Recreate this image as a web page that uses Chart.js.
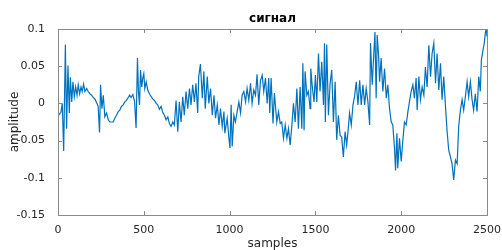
<!DOCTYPE html>
<html>
<head>
<meta charset="utf-8">
<script src="https://cdn.jsdelivr.net/npm/chart.js@4/dist/chart.umd.min.js"></script>
<style>
    body { margin: 0; background: #fff; }
    #wrap { width: 502px; height: 250px; }
</style>
</head>
<body>
<div id="wrap"><canvas id="signalChart"></canvas></div>
<script>
// values (sample index / amplitude)
const samples = [
    1, 6, 17, 25, 33, 43, 50, 58, 66, 72, 80, 87, 95, 103, 111, 118, 126, 134, 141, 149,
    157, 167, 176, 186, 196, 205, 215, 225, 234, 242, 248, 256, 264, 273, 283, 293, 302, 312, 322, 331,
    341, 351, 360, 370, 380, 389, 399, 409,
    417, 426, 436, 446, 455, 463, 469, 475, 481, 488, 494, 500, 506, 514, 523, 533, 543, 552, 562, 572,
    581, 591, 601, 610, 620, 630, 640, 649, 659, 669, 678, 688, 698, 707, 717, 727, 736, 746, 756, 766,
    775, 785, 795, 804, 814, 820, 830,
    841, 850, 858, 870, 879, 889, 899, 909, 918, 928, 938, 947, 957, 967, 972, 986, 996, 1002, 1009, 1015,
    1025, 1034, 1044, 1054, 1064, 1073, 1083, 1093, 1102, 1112, 1122, 1131, 1141, 1151, 1160, 1170, 1180, 1190, 1199, 1209,
    1219, 1228, 1234, 1242, 1253, 1261,
    1266, 1275, 1285, 1295, 1304, 1314, 1324, 1334, 1343, 1353, 1363, 1372, 1382, 1392, 1401, 1411, 1421, 1427, 1434, 1440,
    1450, 1459, 1469, 1473, 1483, 1492, 1500, 1508, 1518, 1527, 1537, 1547, 1553, 1558, 1566, 1576, 1585, 1595, 1605, 1615,
    1624, 1634, 1644, 1653, 1663, 1673, 1682,
    1690, 1699, 1709, 1719, 1728, 1738, 1748, 1758, 1767, 1777, 1787, 1796, 1806, 1816, 1821, 1831, 1839, 1847, 1854, 1860,
    1868, 1874, 1883, 1893, 1903, 1913, 1922, 1932, 1942, 1951, 1961, 1967, 1975, 1980, 1990, 2000, 2009, 2019, 2029, 2039,
    2048, 2058, 2068, 2077, 2087, 2093,
    2103, 2112, 2122, 2132, 2141, 2151, 2161, 2171, 2180, 2190, 2200, 2209, 2219, 2229, 2238, 2248, 2258, 2267, 2277, 2287,
    2296, 2306, 2316, 2326, 2335, 2345, 2355, 2364, 2374, 2384, 2393, 2403, 2413, 2422, 2432, 2442, 2452, 2461, 2467, 2477,
    2484, 2490, 2496, 2500
];

const amplitude = [
    -0.014, -0.015, -0.012, 0.000, -0.064, 0.079, -0.034, 0.051, -0.013, 0.035, 0.002, 0.029, 0.009, 0.022, 0.011, 0.025, 0.013, 0.022, 0.016, 0.026,
    0.016, 0.020, 0.016, 0.013, 0.011, 0.008, 0.006, 0.001, -0.004, -0.039, 0.025, -0.007, 0.011, -0.018, -0.013, -0.022, -0.025, -0.025, -0.025, -0.020,
    -0.016, -0.011, -0.009, -0.004, -0.002, 0.002, 0.004, 0.008,
    0.011, 0.008, 0.012, 0.003, -0.033, 0.061, 0.016, -0.002, 0.045, 0.022, 0.034, 0.040, 0.020, 0.029, 0.018, 0.013, 0.009, 0.006, 0.004, 0.000,
    -0.002, -0.008, -0.004, -0.012, -0.016, -0.022, -0.018, -0.027, -0.031, -0.025, -0.029, 0.004, -0.038, 0.002, -0.025, 0.009, -0.016, 0.016, -0.007, 0.020,
    -0.002, 0.025, 0.002, 0.027, -0.013, 0.036, 0.053,
    0.007, 0.043, -0.007, 0.036, 0.000, 0.020, -0.016, 0.011, -0.020, -0.002, -0.029, -0.007, -0.031, -0.011, -0.040, -0.020, -0.047, -0.060, -0.002, -0.058,
    -0.016, -0.025, -0.011, 0.002, -0.013, 0.011, 0.016, 0.002, 0.020, 0.004, 0.027, 0.000, 0.018, 0.011, 0.039, -0.002, 0.031, 0.038, 0.016, 0.034,
    0.000, 0.034, -0.013, 0.034, -0.027, 0.014,
    0.000, -0.025, -0.011, -0.027, -0.025, -0.047, -0.029, -0.047, -0.034, -0.056, -0.029, 0.000, -0.025, 0.020, -0.034, 0.022, -0.034, 0.054, -0.036, 0.043,
    0.011, 0.016, -0.007, 0.047, 0.020, 0.002, 0.038, 0.002, 0.067, 0.016, 0.056, -0.002, 0.081, -0.025, 0.079, -0.016, 0.025, 0.045, -0.025, 0.029,
    -0.049, -0.016, -0.043, -0.045, -0.072, -0.038, -0.056,
    -0.038, -0.013, -0.029, -0.002, 0.009, 0.029, -0.002, 0.031, -0.002, 0.025, -0.002, 0.020, 0.002, -0.029, 0.081, 0.025, 0.061, 0.096, 0.007, 0.092,
    0.065, 0.029, 0.061, 0.016, 0.047, 0.007, 0.025, -0.007, -0.025, -0.029, -0.060, -0.090, -0.040, -0.087, -0.047, -0.078, -0.051, -0.025, -0.029, -0.011,
    0.002, 0.016, 0.025, 0.007, 0.034, -0.009,
    0.036, 0.005, 0.022, 0.011, 0.049, 0.022, 0.078, 0.036, 0.067, 0.081, 0.027, 0.067, 0.018, 0.054, 0.005, 0.036, -0.004, -0.036, -0.063, -0.072,
    -0.081, -0.103, -0.076, -0.081, -0.031, -0.009, 0.005, -0.009, 0.009, 0.029, 0.009, 0.029, 0.005, -0.009, 0.013, -0.011, 0.036, 0.016, 0.058, 0.072,
    0.081, 0.094, 0.101, 0.090
];

const xTicks = [0, 500, 1000, 1500, 2000, 2500];
const yTicks = [-0.15, -0.1, -0.05, 0, 0.05, 0.1];

const axisGray = "#8a8a8a";
const textGray = "#262626";
const tickFont = { family: "DejaVu Sans", size: 11 };

// matlab style box with inward ticks on all four sides
const boxPlugin = {
    id: "box",
    afterDatasetsDraw(chart) {
        const { ctx, chartArea: a } = chart;
        const xs = chart.scales.x, ys = chart.scales.y;
        const len = 4;
        ctx.save();
        ctx.strokeStyle = axisGray;
        ctx.lineWidth = 1;
        ctx.beginPath();
        xTicks.forEach(t => {
            const px = Math.round(xs.getPixelForValue(t)) + 0.5;
            ctx.moveTo(px, a.bottom); ctx.lineTo(px, a.bottom - len);
            ctx.moveTo(px, a.top); ctx.lineTo(px, a.top + len);
        });
        yTicks.forEach(t => {
            const py = Math.round(ys.getPixelForValue(t)) + 0.5;
            ctx.moveTo(a.left, py); ctx.lineTo(a.left + len, py);
            ctx.moveTo(a.right, py); ctx.lineTo(a.right - len, py);
        });
        ctx.stroke();
        ctx.strokeRect(Math.round(a.left) + 0.5, Math.round(a.top) + 0.5,
            Math.round(a.right - a.left), Math.round(a.bottom - a.top));
        ctx.restore();
    }
};

new Chart(document.getElementById("signalChart"), {
    type: "line",
    data: {
        datasets: [{
            data: samples.map((s, i) => ({ x: s, y: amplitude[i] })),
            borderColor: "#0072BD",
            borderWidth: 1.2,
            pointRadius: 0,
            tension: 0,
            fill: false
        }]
    },
    options: {
        responsive: true,
        maintainAspectRatio: false,
        animation: false,
        layout: { padding: { left: 0, right: 14, top: 0, bottom: 0 } },
        plugins: {
            legend: { display: false },
            tooltip: { enabled: false },
            title: {
                display: true,
                text: "сигнал",
                fullSize: false,
                color: "#000",
                font: { family: "DejaVu Sans", size: 12, weight: "bold" },
                padding: { top: 12, bottom: 2.6 }
            }
        },
        scales: {
            x: {
                type: "linear",
                min: 0,
                max: 2500,
                afterFit: s => { s.height = 35; },
                afterBuildTicks: s => { s.ticks = xTicks.map(v => ({ value: v })); },
                grid: { display: false },
                border: { display: false },
                ticks: { color: textGray, font: tickFont, padding: 1, maxRotation: 0, callback: v => String(v) },
                title: {
                    display: true,
                    text: "samples",
                    color: textGray,
                    font: { family: "DejaVu Sans", size: 12, lineHeight: 1 },
                    padding: { top: 0, bottom: 0 }
                }
            },
            y: {
                min: -0.15,
                max: 0.1,
                afterFit: s => { s.width = 58; },
                afterBuildTicks: s => { s.ticks = yTicks.map(v => ({ value: v })); },
                grid: { display: false },
                border: { display: false },
                ticks: {
                    color: textGray,
                    font: tickFont,
                    padding: 5,
                    callback: v => String(+v.toFixed(2))
                },
                title: {
                    display: true,
                    text: "amplitude",
                    color: textGray,
                    font: { family: "DejaVu Sans", size: 12 },
                    padding: { top: 8, bottom: 0 }
                }
            }
        }
    },
    plugins: [boxPlugin]
});
</script>
</body>
</html>
